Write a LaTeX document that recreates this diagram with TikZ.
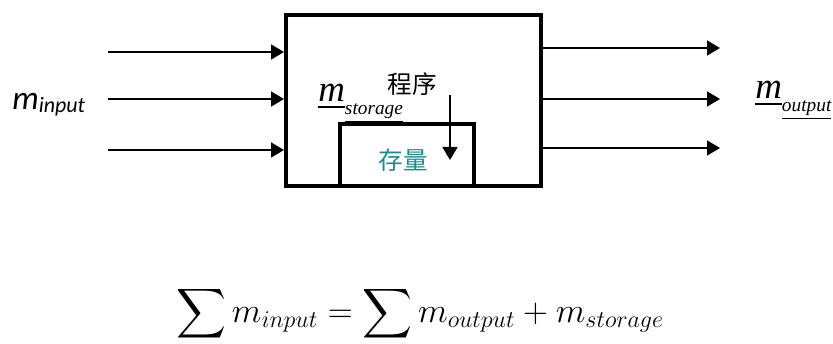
\documentclass[tikz,border=0pt]{standalone}
\usepackage{amsmath}
\usepackage{fontspec}
\setmainfont{Liberation Serif}
\newfontfamily\calfont{Carlito}
\newfontfamily\cjkfont{Noto Sans CJK SC}
\usetikzlibrary{positioning,arrows.meta,calc}
\definecolor{stockc}{RGB}{28,140,140}
\tikzset{
  wall/.style={draw, line width=2.3pt, inner sep=0pt},
  flow/.style={line width=0.9pt, -{Triangle[length=2.6mm, width=3mm]}},
  qty/.style={inner sep=0pt, anchor=base west},
}
\newcommand{\ulsym}[2]{%
  {\fontsize{21}{24}\selectfont\itshape\underline{#1}}%
  \raisebox{-7pt}{\fontsize{11}{13}\selectfont\itshape\underline{#2}}}

\begin{document}
\begin{tikzpicture}[x=0.02cm, y=-0.02cm]
\useasboundingbox (0,0) rectangle (833,344);

% ------------------------------------------------- system
\node[wall, minimum width=5.1cm, minimum height=3.42cm] (sys) at (413.5,100.5) {};
\node[wall, minimum width=2.68cm, minimum height=1.24cm] (stock) at (407,155) {};

% ------------------------------------------------- inflows
\foreach \y/\n in {52/1, 99/2, 150/3} {
  \coordinate (in\n) at (108,\y);
  \draw[flow] (in\n) -- (sys.west |- in\n);
}
\node[qty] (minput) at (12,110)
  {\calfont\itshape{\fontsize{19}{22}\selectfont m}\raisebox{-0.3ex}{\fontsize{12.5}{15}\selectfont input}};

% ------------------------------------------------- outflows
\foreach \y/\n in {48/1, 99/2, 148/3} {
  \coordinate (out\n) at (720,\y);
  \draw[flow] (sys.east |- out\n) -- (out\n);
}
\node[qty] (moutput) at (755,99) {\ulsym{m}{output}};

% ------------------------------------------------- storage
\node[qty] (mstorage) at (318,102) {\ulsym{m}{storage}};
\node[inner sep=0pt] (prog) at (412,84) {\cjkfont\fontsize{14}{16}\selectfont 程序};
\node[inner sep=0pt, text=stockc] (stocklbl) at (403,160) {\cjkfont\fontsize{14}{16}\selectfont 存量};
\coordinate (dropA) at (450,95);
\coordinate (dropB) at (450,160);
\draw[flow] (dropA) -- (dropB);

% ------------------------------------------------- balance
\node[inner sep=0pt, scale=0.95] (balance) at (420,314)
  {\fontsize{20}{24}\selectfont $\displaystyle\sum m_{input} = \sum m_{output} + m_{storage}$};

\end{tikzpicture}
\end{document}
